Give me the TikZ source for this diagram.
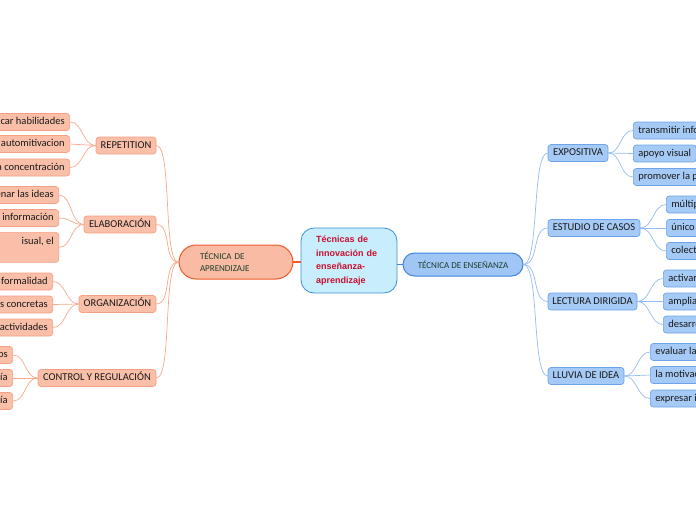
\documentclass[tikz,border=0pt]{standalone}
\usepackage{fontspec}
\setmainfont{Carlito}
\newfontfamily\cenfont{Liberation Sans}
\usetikzlibrary{shapes.misc}
\definecolor{lfill}{HTML}{F9BFA9}
\definecolor{ldraw}{HTML}{F5A084}
\definecolor{lline}{HTML}{F8A88B}
\definecolor{pillL}{HTML}{F9BBA4}
\definecolor{pillLd}{HTML}{F05A28}
\definecolor{rfill}{HTML}{A6CAF6}
\definecolor{rdraw}{HTML}{6DA3EC}
\definecolor{rline}{HTML}{93BCF0}
\definecolor{pillR}{HTML}{A0C6F6}
\definecolor{pillRd}{HTML}{3F82DD}
\definecolor{cfill}{HTML}{C8EDFC}
\definecolor{cdraw}{HTML}{3E90D8}
\definecolor{ctext}{HTML}{C8102E}
\definecolor{ptext}{HTML}{1B3F2A}
\newcommand{\lcut}[1]{\makebox[150pt][r]{#1}}
\newcommand{\rcut}[1]{\makebox[150pt][l]{#1}}
\begin{document}
\begin{tikzpicture}[x=1pt,y=-1pt,
  box/.style={rounded corners=3pt, line width=0.7pt, minimum height=17pt, inner sep=0pt,
    text height=7pt, text depth=2pt, font=\fontsize{10.5}{12}\selectfont, text=black!90},
  lbox/.style={box, draw=ldraw, fill=lfill},
  rbox/.style={box, draw=rdraw, fill=rfill},
  lleaf/.style={lbox, anchor=east, inner xsep=5pt},
  rleaf/.style={rbox, anchor=west, inner xsep=5pt},
  lconn/.style={draw=lline, line width=0.7pt},
  rconn/.style={draw=rline, line width=0.7pt}]
\useasboundingbox (0,0) rectangle (696,520);
\clip (0,0) rectangle (696,520);

% central
\node[draw=cdraw, fill=cfill, rounded corners=13pt, line width=0.8pt, text width=66pt, align=left,
  inner xsep=15pt, minimum height=65pt, text=ctext,
  font=\cenfont\bfseries\fontsize{9}{13.7}\selectfont] (cen) at (349,260.5)
  {Técnicas de\\innovación de\\enseñanza-\\aprendizaje};

\node[rounded rectangle, draw=pillLd, fill=pillL, line width=1pt, text width=72pt, inner xsep=18pt,
  minimum height=34pt, align=left, text=ptext, font=\fontsize{9}{11.5}\selectfont] (apr) at (236,262)
  {TÉCNICA DE\\APRENDIZAJE};
\node[rounded rectangle, draw=pillRd, fill=pillR, line width=1pt, minimum width=120pt,
  minimum height=23pt, inner sep=0pt, text=ptext, font=\fontsize{9}{11}\selectfont] (enz) at (463,264.5)
  {TÉCNICA DE ENSEÑANZA};

\draw[pillLd, line width=1.4pt] (apr.east) -- (cen.west |- apr.east);
\draw[pillRd, line width=1.4pt] (cen.east |- enz.west) -- (enz.west);

% left sub nodes
\node[lbox, minimum width=60pt] (rep) at (126,145.5) {REPETITION};
\node[lbox, minimum width=72pt] (ela) at (120,224.5) {ELABORACIÓN};
\node[lbox, minimum width=77pt] (org) at (117.5,304) {ORGANIZACIÓN};
\node[lbox, minimum width=118pt] (con) at (97,378) {CONTROL Y REGULACIÓN};

\foreach \n in {rep,ela,org,con}
  \draw[lconn] (apr.west) .. controls +(-16,0) and +(16,0) .. (\n.east);

% left leaves
\node[lleaf] (r1) at (70,122) {\lcut{car habilidades}};
\node[lleaf] (r2) at (70,144) {\lcut{automitivacion}};
\node[lleaf] (r3) at (70,167.5) {\lcut{a concentración}};
\node[lleaf] (e1) at (59,195) {\lcut{enar las ideas}};
\node[lleaf] (e2) at (59,218) {\lcut{información}};
\node[lbox, anchor=north east, minimum width=160pt, minimum height=30pt] (e3) at (59,232) {};
\node[anchor=east, inner sep=0pt, font=\fontsize{10.5}{12}\selectfont, text=black!90] (e3t) at (54,242) {isual, el};
\node[lleaf] (o1) at (53,281.5) {\lcut{formalidad}};
\node[lleaf] (o2) at (53,304.5) {\lcut{s concretas}};
\node[lleaf] (o3) at (53,327.5) {\lcut{actividades}};
\node[lleaf] (c1) at (13,355) {\lcut{os}};
\node[lleaf] (c2) at (13,378) {\lcut{ía}};
\node[lleaf] (c3) at (13,401) {\lcut{ía}};

\foreach \a/\b in {rep/r1,rep/r2,rep/r3,ela/e1,ela/e2,org/o1,org/o2,org/o3,con/c1,con/c2,con/c3}
  \draw[lconn] (\a.west) .. controls +(-13,0) and +(13,0) .. (\b.east);
\draw[lconn] (ela.west) .. controls +(-13,0) and +(13,0) .. (e3.east);

% right sub nodes
\node[rbox, minimum width=60pt] (exp) at (578,153) {EXPOSITIVA};
\node[rbox, minimum width=92pt] (est) at (594,228) {ESTUDIO DE CASOS};
\node[rbox, minimum width=89pt] (lec) at (592.5,301.5) {LECTURA DIRIGIDA};
\node[rbox, minimum width=76pt] (llu) at (586,376) {LLUVIA DE IDEA};

\foreach \n in {exp,est,lec,llu}
  \draw[rconn] (enz.east) .. controls +(16,0) and +(-16,0) .. (\n.west);

% right leaves
\node[rleaf] (x1) at (633,130.5) {\rcut{transmitir info}};
\node[rleaf] (x2) at (633,153.5) {apoyo visual};
\node[rleaf] (x3) at (633,177) {\rcut{promover la p}};
\node[rleaf] (s1) at (666,204.5) {\rcut{múltip}};
\node[rleaf] (s2) at (666,228) {\rcut{único}};
\node[rleaf] (s3) at (666,251) {\rcut{colect}};
\node[rleaf] (l1) at (663,278.5) {\rcut{activar}};
\node[rleaf] (l2) at (663,301.5) {\rcut{amplia}};
\node[rleaf] (l3) at (663,324.5) {\rcut{desarro}};
\node[rleaf] (u1) at (650,352) {\rcut{evaluar la}};
\node[rleaf] (u2) at (650,375) {\rcut{la motivac}};
\node[rleaf] (u3) at (650,398.5) {\rcut{expresar i}};

\foreach \a/\b in {exp/x1,exp/x2,exp/x3,est/s1,est/s2,est/s3,lec/l1,lec/l2,lec/l3,llu/u1,llu/u2,llu/u3}
  \draw[rconn] (\a.east) .. controls +(13,0) and +(-13,0) .. (\b.west);
\end{tikzpicture}
\end{document}
